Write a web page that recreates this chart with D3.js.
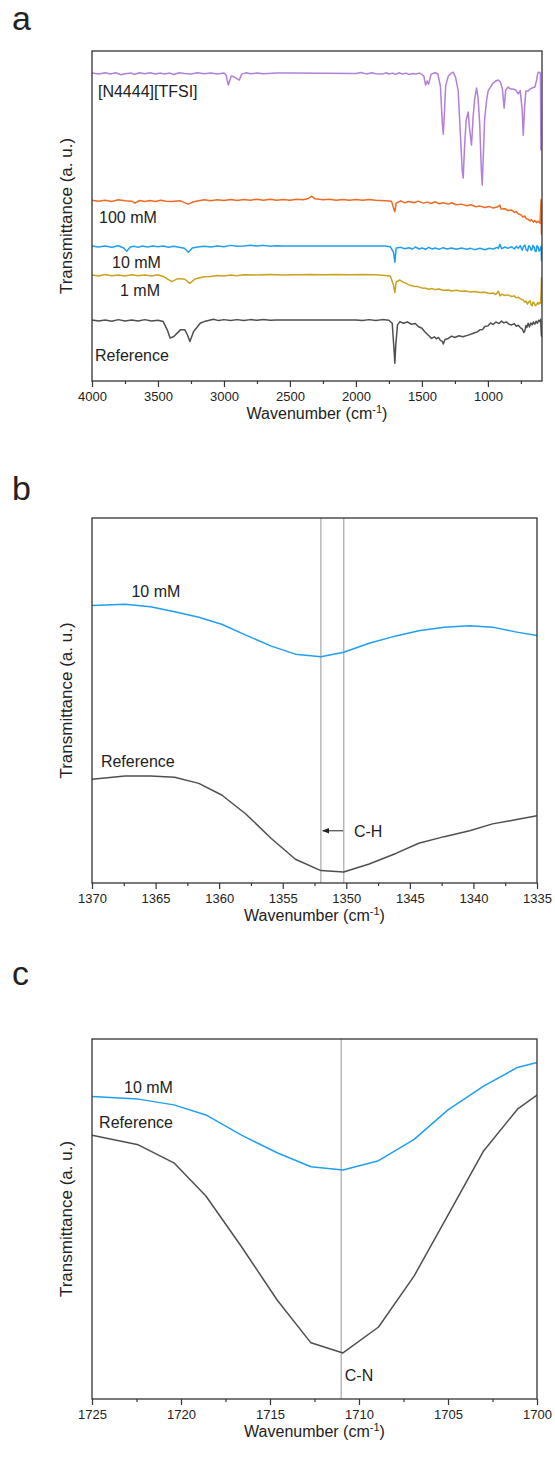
<!DOCTYPE html>
<html>
<head>
    <title>FTIR spectra</title>
    <script src="https://d3js.org/d3.v7.min.js"></script>
    <style>
        body { margin: 0; background: #fff; }
        text { font-family: "Liberation Sans", Arial, sans-serif; fill: #222; }
    </style>
</head>
<body>
<script>
    // ---- panel a: full spectra, [wavenumber, transmittance a.u.] ----
    var tfsiA = [[4000, 93.3], [3950, 93.0], [3900, 93.4], [3860, 93.0], [3820, 93.4], [3780, 92.8], [3750, 93.1],
        [3700, 93.3], [3680, 92.9], [3640, 93.4], [3600, 93.1], [3560, 93.4], [3520, 93.0], [3480, 93.3],
        [3450, 93.0], [3410, 93.3], [3380, 92.9], [3340, 93.4], [3300, 93.2], [3250, 93.0], [3200, 93.4], [3150, 93.1],
        [3100, 93.3], [3050, 93.0], [3000, 93.3], [2985, 92.8], [2967, 89.7],
        [2945, 92.4], [2920, 92.1], [2884, 91.2], [2865, 93.0], [2830, 93.4], [2800, 93.1], [2750, 93.3], [2700, 93.1],
        [2600, 93.3], [2500, 93.3], [2000, 93.2], [1960, 93.5], [1920, 93.0], [1880, 93.4], [1850, 93.1], [1800, 93.0],
        [1770, 93.4], [1750, 93.0], [1720, 93.3], [1700, 92.9], [1670, 93.4], [1650, 93.0], [1620, 93.3],
        [1600, 92.9], [1570, 93.2], [1550, 93.0], [1520, 93.3], [1500, 92.9], [1485, 92.4], [1472, 89.7], [1460, 90.9],
        [1450, 89.9], [1430, 93.0], [1400, 93.4], [1380, 93.1], [1360, 89.4], [1345, 78.0], [1338, 74.8], [1330, 81.0],
        [1320, 89.5], [1300, 92.4], [1280, 93.2], [1263, 93.6], [1245, 92.0], [1225, 88.0], [1205, 72.0], [1195, 64.0],
        [1187, 61.5], [1178, 70.0], [1165, 79.0], [1149, 81.5], [1138, 76.0], [1124, 71.5], [1112, 80.0], [1100, 85.5],
        [1086, 88.8], [1075, 86.0], [1062, 78.0], [1050, 64.0], [1043, 59.4], [1035, 68.0], [1025, 79.1], [1010, 85.0],
        [998, 87.9], [975, 89.4], [960, 90.3], [940, 90.9], [922, 91.2], [905, 90.6], [890, 88.5], [877, 82.7],
        [865, 88.2], [846, 89.1], [830, 88.5], [810, 88.5], [790, 88.2], [770, 87.0], [755, 88.0], [740, 82.0],
        [732, 74.5], [722, 83.0], [712, 87.9], [695, 87.9], [680, 88.5], [665, 88.8], [644, 89.1], [632, 91.0],
        [622, 93.3], [612, 93.6], [602, 93.3], [598, 70.0], [592, 70.0]];

    var mM100A = [[4000, 54.8], [3950, 54.5], [3900, 54.8], [3850, 54.4], [3800, 54.9], [3750, 54.6], [3700, 54.5],
        [3674, 53.9], [3640, 54.7], [3600, 54.4], [3560, 54.7], [3520, 54.4], [3480, 54.8], [3440, 54.5], [3400, 54.4],
        [3330, 54.6], [3270, 53.6], [3230, 54.3], [3190, 54.6], [3150, 54.9], [3100, 54.6], [3050, 54.9], [3000, 54.7],
        [2950, 55.0], [2900, 54.7], [2850, 55.0], [2800, 54.8], [2750, 55.1], [2700, 54.8], [2650, 55.1], [2600, 54.8],
        [2550, 55.0], [2500, 54.8], [2450, 55.1], [2400, 54.9], [2360, 55.3], [2336, 56.0], [2310, 55.2],
        [2250, 54.9], [2200, 55.1], [2150, 54.8], [2100, 55.0], [2050, 54.8], [2000, 55.0], [1950, 54.8], [1900, 55.0],
        [1850, 54.8], [1780, 54.6], [1730, 54.5], [1712, 52.0], [1705, 51.3], [1695, 53.9], [1660, 54.6],
        [1630, 54.0], [1600, 54.4], [1560, 54.0], [1530, 54.5], [1490, 53.9], [1460, 54.2], [1430, 53.8],
        [1400, 54.3], [1370, 53.7], [1340, 54.0], [1300, 53.6], [1275, 54.0], [1240, 53.4], [1200, 53.6],
        [1160, 53.1], [1130, 53.4], [1090, 52.8], [1060, 53.0], [1023, 52.6], [990, 52.9], [960, 52.4], [930, 52.7],
        [909, 53.3], [900, 52.1], [870, 52.2], [850, 51.7], [820, 51.8], [800, 51.1], [785, 51.4], [770, 50.6],
        [750, 50.4], [735, 49.7], [720, 50.0], [710, 49.2], [695, 49.0], [680, 48.5], [670, 48.9], [655, 48.2],
        [645, 48.6], [630, 48.0], [619, 48.4], [605, 47.8], [597, 55.0], [594, 44.5], [592, 48.0]];

    var mM10A = [[4000, 40.9], [3950, 40.6], [3900, 40.9], [3850, 40.5], [3800, 41.0], [3760, 40.3], [3737, 39.3],
        [3710, 40.6], [3680, 40.8], [3650, 40.5], [3620, 40.9], [3580, 40.6], [3540, 40.9], [3500, 40.7], [3460, 40.9],
        [3420, 40.5], [3380, 40.8], [3350, 40.6], [3300, 40.2], [3270, 39.0], [3240, 40.3], [3200, 40.6], [3150, 40.8],
        [3100, 40.6], [3050, 40.9], [3000, 40.7], [2950, 41.1], [2900, 40.8], [2850, 40.9], [2800, 41.1], [2750, 40.9],
        [2700, 41.1], [2650, 40.8], [2600, 41.0], [2550, 40.9], [2487, 40.9], [1780, 40.9],
        [1740, 40.7], [1715, 39.0], [1705, 36.0], [1695, 40.3], [1660, 40.5], [1630, 40.1], [1600, 40.4],
        [1570, 40.0], [1550, 40.6], [1520, 40.0], [1500, 40.3], [1470, 39.9], [1450, 40.5], [1420, 40.0],
        [1400, 40.3], [1370, 39.9], [1340, 40.4], [1310, 40.0], [1275, 40.3], [1240, 39.9], [1200, 40.3],
        [1160, 39.9], [1130, 40.2], [1100, 39.8], [1060, 40.2], [1023, 39.8], [990, 40.2], [960, 40.0],
        [930, 40.5], [920, 40.2], [909, 41.4], [895, 40.1], [870, 40.6], [850, 40.2], [820, 40.7], [800, 40.0],
        [785, 40.8], [770, 40.2], [755, 41.0], [740, 39.6], [730, 40.8], [720, 41.2], [710, 39.8], [700, 39.4],
        [690, 41.0], [680, 40.6], [672, 39.6], [665, 39.9], [658, 41.1], [650, 40.6], [642, 39.4], [635, 39.2],
        [628, 41.0], [620, 40.7], [612, 39.4], [605, 39.8], [597, 40.8], [594, 36.5], [592, 39.0]];

    var mM1A = [[4000, 32.1], [3950, 31.8], [3900, 32.3], [3850, 31.9], [3800, 32.1], [3750, 31.8], [3700, 32.2],
        [3650, 31.9], [3600, 32.1], [3550, 31.8], [3500, 32.2], [3450, 31.5], [3396, 30.1], [3350, 31.0], [3300, 30.9],
        [3258, 29.6], [3220, 30.9], [3150, 31.6], [3100, 31.7], [3050, 32.0], [3000, 31.8], [2950, 32.1], [2900, 31.9],
        [2850, 32.2], [2750, 32.1], [2650, 32.3], [2550, 32.1], [2450, 32.2], [2350, 32.3], [2250, 32.2], [2150, 32.3],
        [2050, 32.2], [1950, 32.3], [1850, 32.2], [1780, 32.0], [1740, 31.8], [1715, 29.0], [1705, 26.8], [1695, 30.0],
        [1667, 30.6], [1640, 29.9], [1620, 29.6], [1590, 29.0], [1560, 28.7], [1530, 28.6], [1500, 28.2],
        [1470, 28.1], [1450, 27.8], [1420, 28.0], [1402, 27.7], [1370, 27.9], [1340, 27.5], [1300, 27.6],
        [1275, 27.3], [1240, 27.5], [1200, 27.2], [1170, 27.3], [1130, 27.0], [1100, 27.1], [1060, 26.8],
        [1023, 26.9], [990, 26.5], [960, 26.7], [940, 26.2], [920, 27.2], [909, 25.8], [895, 26.3], [870, 25.9],
        [850, 26.1], [820, 25.6], [800, 25.8], [785, 25.2], [770, 25.4], [750, 24.8], [735, 24.6], [720, 23.9],
        [710, 24.2], [700, 23.3], [690, 24.0], [680, 24.3], [672, 23.0], [665, 22.8], [658, 23.9], [650, 23.6],
        [640, 22.8], [630, 23.2], [622, 23.8], [615, 23.3], [607, 23.8], [600, 23.6], [596, 28.0], [593, 31.6]];

    var refA = [[4000, 18.5], [3950, 18.2], [3900, 18.5], [3850, 18.1], [3800, 18.6], [3750, 18.2], [3700, 18.5],
        [3650, 18.2], [3600, 18.6], [3550, 18.2], [3500, 18.4], [3460, 18.0],
        [3430, 15.5], [3408, 13.0], [3380, 13.5], [3330, 15.5], [3296, 15.5], [3275, 13.8], [3258, 12.0], [3230, 15.0],
        [3180, 17.5], [3150, 18.0], [3110, 18.4], [3080, 18.7], [3040, 18.3], [3000, 18.6], [2950, 18.3],
        [2900, 18.6], [2850, 18.3], [2800, 18.6], [2750, 18.4], [2700, 18.6], [2650, 18.4], [2600, 18.5],
        [2500, 18.5], [2000, 18.5], [1950, 18.3], [1900, 18.6], [1850, 18.3], [1800, 18.6], [1750, 18.4],
        [1725, 17.5], [1712, 10.0], [1705, 5.4], [1698, 11.0], [1685, 17.0], [1667, 18.0], [1640, 17.5],
        [1610, 17.9], [1580, 17.2], [1550, 17.4], [1528, 16.5], [1500, 16.0], [1480, 15.0], [1455, 14.0],
        [1427, 12.9], [1405, 13.4], [1390, 12.8], [1375, 13.2], [1360, 12.3], [1345, 12.0], [1338, 11.2],
        [1325, 12.6], [1300, 12.9], [1275, 13.6], [1250, 13.2], [1220, 13.7], [1190, 13.4], [1149, 13.9],
        [1120, 14.3], [1100, 14.6], [1080, 14.9], [1060, 15.5], [1040, 15.6], [1023, 16.5], [1000, 16.7],
        [980, 17.6], [960, 17.1], [940, 17.9], [915, 17.4], [897, 18.2], [880, 17.6], [860, 17.9], [840, 17.2],
        [820, 17.0], [800, 17.4], [785, 16.6], [770, 16.9], [755, 16.2], [740, 15.8], [728, 14.7], [720, 15.2],
        [712, 16.8], [705, 16.2], [695, 17.5], [685, 16.4], [675, 17.6], [665, 17.0], [655, 17.9], [645, 17.2],
        [635, 18.1], [625, 17.5], [615, 18.4], [605, 18.0], [600, 18.7], [595, 14.0], [592, 13.4]];

    // ---- panel b: C-H region ----
    var wnB = [1370, 1367.4, 1365.4, 1363.5, 1361.6, 1359.8, 1357.9, 1355.9, 1354.0, 1352.0, 1350.2, 1348.2, 1346.1,
        1344.3, 1342.3, 1340.3, 1338.5, 1336.7, 1335];
    var mM10B = [76.0, 76.4, 75.7, 74.3, 72.8, 70.9, 67.9, 64.9, 62.7, 62.0, 63.2, 65.7, 67.7, 69.1, 70.1, 70.5,
        70.1, 68.8, 67.8];
    var refB = [28.4, 29.3, 29.3, 29.0, 27.3, 24.1, 18.9, 12.2, 6.5, 3.4, 3.0, 5.2, 8.1, 10.9, 12.7, 14.3, 16.2,
        17.3, 18.4];

    // ---- panel c: C-N region ----
    var wnC = [1725, 1722.4, 1720.4, 1718.6, 1716.6, 1714.6, 1712.7, 1710.9, 1708.9, 1706.9, 1705.0, 1703.0,
        1701.1, 1700];
    var mM10C = [84.0, 83.3, 81.7, 78.9, 73.3, 68.4, 64.5, 63.6, 66.2, 72.1, 80.3, 86.9, 92.1, 93.5];
    var refC = [73.3, 70.6, 65.6, 56.4, 42.3, 27.5, 15.6, 12.8, 20.0, 34.2, 51.1, 68.9, 80.5, 84.4];

    var ticksA = [4000, 3500, 3000, 2500, 2000, 1500, 1000];
    var minorA = [3750, 3250, 2750, 2250, 1750, 1250, 750];
    var ticksB = [1370, 1365, 1360, 1355, 1350, 1345, 1340, 1335];
    var minorB = [1367.5, 1362.5, 1357.5, 1352.5, 1347.5, 1342.5, 1337.5];
    var ticksC = [1725, 1720, 1715, 1710, 1705, 1700];
    var minorC = [1722.5, 1717.5, 1712.5, 1707.5, 1702.5];

    var colors = {purple: "#b27fda", orange: "#ef6a22", blue: "#1f9ff0", gold: "#c9a21f", grey: "#4f4f4f"};

    var width = 555, height = 1459;
    var svg = d3.select("body").append("svg")
        .attr("width", width)
        .attr("height", height);

    function zip(xs, ys) {
        return xs.map(function(v, i) { return [v, ys[i]]; });
    }

    function drawPanel(p) {
        var g = svg.append("g");
        var x = d3.scaleLinear().domain(p.xDomain).range([p.left, p.right]);
        var y = d3.scaleLinear().domain([0, 100]).range([p.bottom, p.top]);

        svg.append("clipPath").attr("id", "clip-" + p.id)
            .append("rect")
            .attr("x", p.left).attr("y", p.top)
            .attr("width", p.right - p.left).attr("height", p.bottom - p.top);

        // reference lines
        (p.vlines || []).forEach(function(v) {
            g.append("line")
                .attr("x1", x(v)).attr("x2", x(v))
                .attr("y1", p.top).attr("y2", p.bottom)
                .attr("stroke", "#b4b4b4")
                .attr("stroke-width", 1.4);
        });

        var line = d3.line()
            .x(function(d) { return x(d[0]); })
            .y(function(d) { return y(d[1]); });

        p.series.forEach(function(s) {
            g.append("path")
                .datum(s.data)
                .attr("clip-path", "url(#clip-" + p.id + ")")
                .attr("fill", "none")
                .attr("stroke", s.color)
                .attr("stroke-width", 1.5)
                .attr("stroke-linejoin", "round")
                .attr("d", line);
        });

        // frame
        g.append("rect")
            .attr("x", p.left).attr("y", p.top)
            .attr("width", p.right - p.left).attr("height", p.bottom - p.top)
            .attr("fill", "none")
            .attr("stroke", "#333")
            .attr("stroke-width", 1.3);

        var axis = g.append("g")
            .attr("transform", "translate(0," + p.bottom + ")")
            .call(d3.axisBottom(x).tickValues(p.major).tickSize(6).tickPadding(5).tickFormat(d3.format("d")));
        axis.select(".domain").remove();
        axis.selectAll("line").attr("stroke", "#333").attr("stroke-width", 1.2);
        axis.selectAll("text").attr("font-size", 13).attr("fill", "#222")
            .style("font-family", "'Liberation Sans', Arial, sans-serif");

        var minor = g.append("g")
            .attr("transform", "translate(0," + p.bottom + ")")
            .call(d3.axisBottom(x).tickValues(p.minor).tickSize(3).tickFormat(""));
        minor.select(".domain").remove();
        minor.selectAll("line").attr("stroke", "#333").attr("stroke-width", 1.2);

        // axis titles
        var xt = g.append("text")
            .attr("x", (p.left + p.right) / 2)
            .attr("y", p.bottom + 38)
            .attr("text-anchor", "middle")
            .attr("font-size", 16);
        xt.append("tspan").text("Wavenumber (cm");
        xt.append("tspan").attr("dy", -6).attr("font-size", 11).text("-1");
        xt.append("tspan").attr("dy", 6).text(")");

        g.append("text")
            .attr("transform", "translate(72," + ((p.top + p.bottom) / 2) + ") rotate(-90)")
            .attr("text-anchor", "middle")
            .attr("font-size", 17)
            .text("Transmittance (a. u.)");

        g.append("text")
            .attr("x", 12).attr("y", p.letterY)
            .attr("font-size", 34)
            .text(p.letter);

        p.labels.forEach(function(l) {
            g.append("text")
                .attr("x", x(l.wn)).attr("y", y(l.v))
                .attr("font-size", l.size || 16)
                .text(l.text);
        });

        return {x: x, y: y, g: g};
    }

    drawPanel({
        id: "a", letter: "a", letterY: 30,
        left: 92, right: 542, top: 51, bottom: 381,
        xDomain: [4000, 590], major: ticksA, minor: minorA,
        series: [
            {data: tfsiA, color: colors.purple},
            {data: mM100A, color: colors.orange},
            {data: mM10A, color: colors.blue},
            {data: mM1A, color: colors.gold},
            {data: refA, color: colors.grey}
        ],
        labels: [
            {text: "[N4444][TFSI]", wn: 3955, v: 86.1},
            {text: "100 mM", wn: 3947, v: 47.9},
            {text: "10 mM", wn: 3848, v: 34.2},
            {text: "1 mM", wn: 3788, v: 25.8},
            {text: "Reference", wn: 3977, v: 6.2}
        ]
    });

    var pb = drawPanel({
        id: "b", letter: "b", letterY: 500,
        left: 92, right: 537, top: 518, bottom: 883,
        xDomain: [1370, 1335], major: ticksB, minor: minorB,
        vlines: [1352.0, 1350.2],
        series: [
            {data: zip(wnB, mM10B), color: colors.blue},
            {data: zip(wnB, refB), color: colors.grey}
        ],
        labels: [
            {text: "10 mM", wn: 1366.9, v: 78.4},
            {text: "Reference", wn: 1369.3, v: 31.7},
            {text: "C-H", wn: 1349.4, v: 12.5}
        ]
    });

    // arrow showing the C-H shift
    svg.append("defs").append("marker")
        .attr("id", "arrow")
        .attr("viewBox", "0 0 10 10")
        .attr("refX", 9).attr("refY", 5)
        .attr("markerWidth", 7).attr("markerHeight", 7)
        .attr("orient", "auto")
        .append("path")
        .attr("d", "M0,1 L10,5 L0,9 z")
        .attr("fill", "#222");
    pb.g.append("line")
        .attr("x1", pb.x(1350.25)).attr("x2", pb.x(1351.85))
        .attr("y1", pb.y(14.3)).attr("y2", pb.y(14.3))
        .attr("stroke", "#222")
        .attr("stroke-width", 1)
        .attr("marker-end", "url(#arrow)");

    drawPanel({
        id: "c", letter: "c", letterY: 985,
        left: 92, right: 537, top: 1039, bottom: 1399,
        xDomain: [1725, 1700], major: ticksC, minor: minorC,
        vlines: [1711.0],
        series: [
            {data: zip(wnC, mM10C), color: colors.blue},
            {data: zip(wnC, refC), color: colors.grey}
        ],
        labels: [
            {text: "10 mM", wn: 1723.2, v: 84.9},
            {text: "Reference", wn: 1724.6, v: 75.3},
            {text: "C-N", wn: 1710.8, v: 5.0}
        ]
    });
</script>
</body>
</html>
